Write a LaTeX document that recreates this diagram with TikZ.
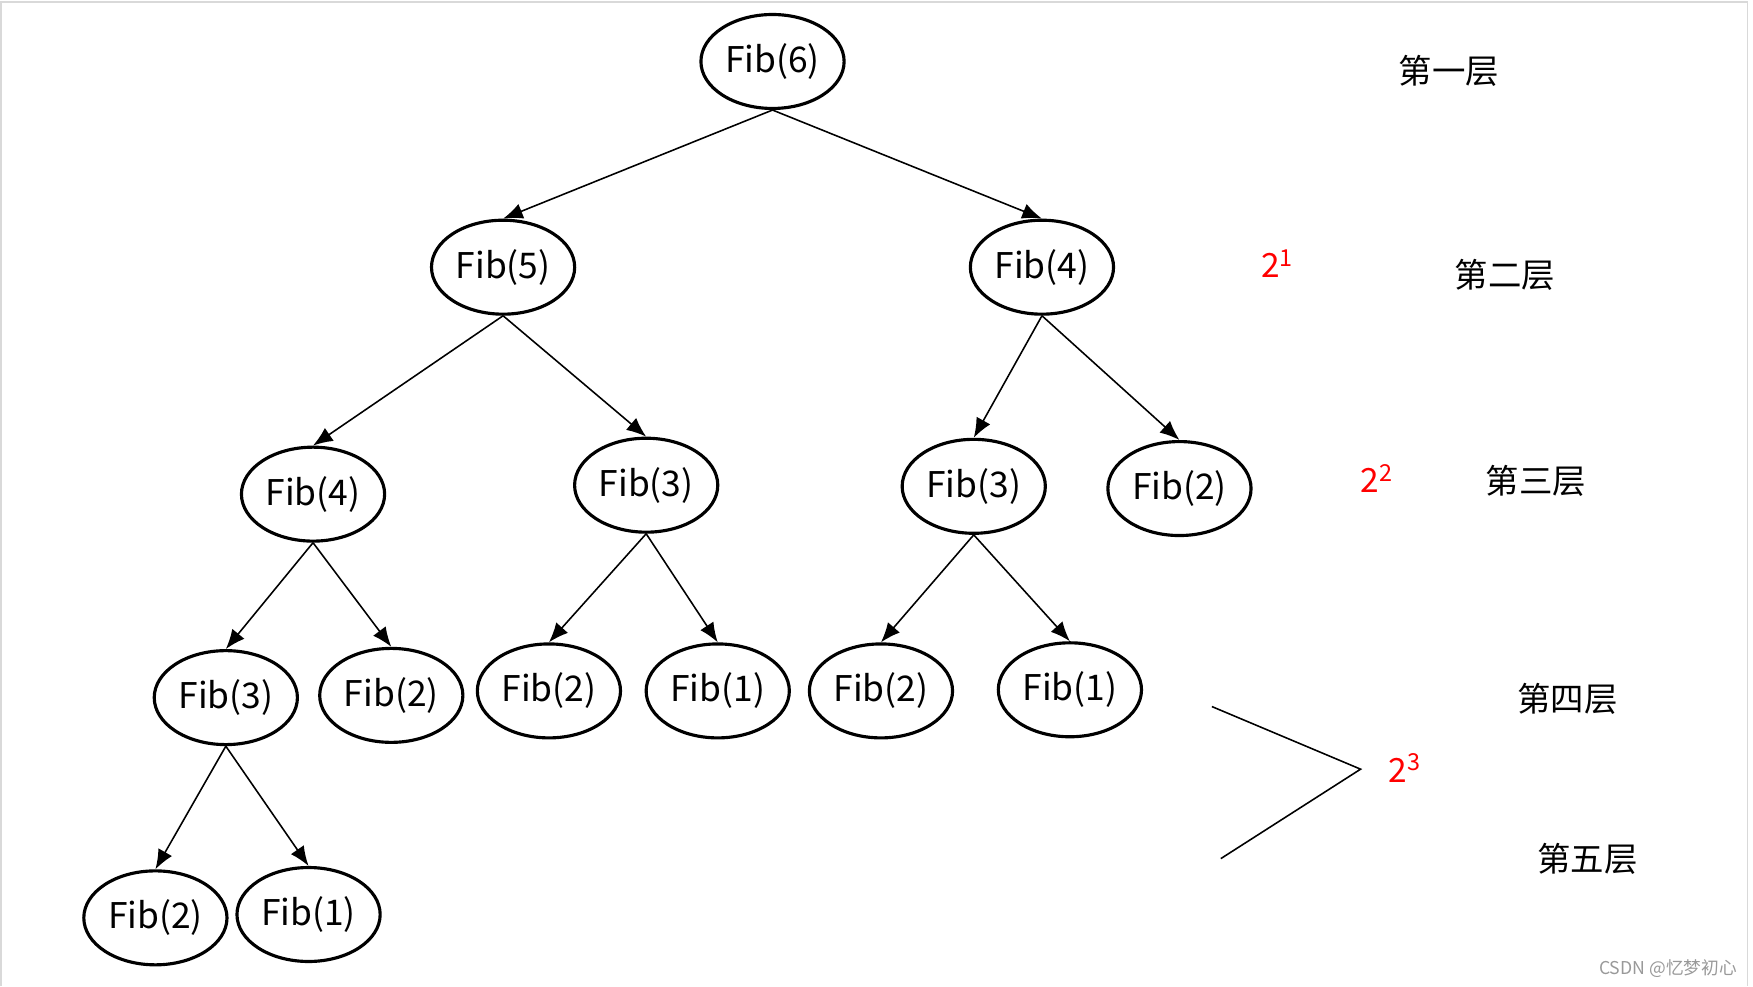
\documentclass[tikz,border=0pt]{standalone}
\usepackage{fontspec}
\setmainfont{Noto Sans CJK SC}
\usetikzlibrary{shapes.geometric,arrows.meta}
\begin{document}
\begin{tikzpicture}[x=0.01cm,y=-0.01cm,
  fib/.style={ellipse,draw,thick,minimum width=1.28cm,minimum height=0.84cm,inner sep=0pt,font=\fontsize{9}{10}\selectfont},
  lay/.style={font=\fontsize{8.5}{10}\selectfont},
  red/.style={text=red,font=\fontsize{8.5}{10}\selectfont},
  arr/.style={-{Latex[length=5pt,width=4pt]},thin}]
\useasboundingbox (0,0) rectangle (1568,882);
\draw[black!15] (1,882) -- (1,2) -- (1563,2) -- (1563,882);
\node[fib] (f6) at (691,55) {Fib(6)};
\node[fib] (f5) at (450,239) {Fib(5)};
\node[fib] (f4a) at (932,239) {Fib(4)};
\node[fib] (f4b) at (280,442) {Fib(4)};
\node[fib] (f3a) at (578,434) {Fib(3)};
\node[fib] (f3b) at (871,435) {Fib(3)};
\node[fib] (f2a) at (1055,437) {Fib(2)};
\node[fib] (f3c) at (202,624) {Fib(3)};
\node[fib] (f2b) at (350,622) {Fib(2)};
\node[fib] (f2c) at (491,618) {Fib(2)};
\node[fib] (f1a) at (642,618) {Fib(1)};
\node[fib] (f2d) at (788,618) {Fib(2)};
\node[fib] (f1b) at (957,617) {Fib(1)};
\node[fib] (f2e) at (139,821) {Fib(2)};
\node[fib] (f1c) at (276,818) {Fib(1)};
\foreach \a/\b in {f6/f5,f6/f4a,f5/f4b,f5/f3a,f4a/f3b,f4a/f2a,f4b/f3c,f4b/f2b,f3a/f2c,f3a/f1a,f3b/f2d,f3b/f1b,f3c/f2e,f3c/f1c}
  \draw[arr] (\a.south) -- (\b.north);
\node[lay] (l1) at (1296,63) {第一层};
\node[lay] (l2) at (1346,246) {第二层};
\node[lay] (l3) at (1374,430) {第三层};
\node[lay] (l4) at (1402,625) {第四层};
\node[lay] (l5) at (1420,768) {第五层};
\node[red] (p1) at (1143,236) {2$^{\mathrm{1}}$};
\node[red] (p2) at (1232,428) {2$^{\mathrm{2}}$};
\node[red] (p3) at (1257,687) {2$^{\mathrm{3}}$};
\coordinate (ca) at (1084,632);
\coordinate (cb) at (1217,688);
\coordinate (cc) at (1092,768);
\draw[thin] (ca) -- (cb) -- (cc);
\node[text=black!40,font=\fontsize{4.5}{5}\selectfont] (wm) at (1492,866) {CSDN @忆梦初心};
\end{tikzpicture}
\end{document}
